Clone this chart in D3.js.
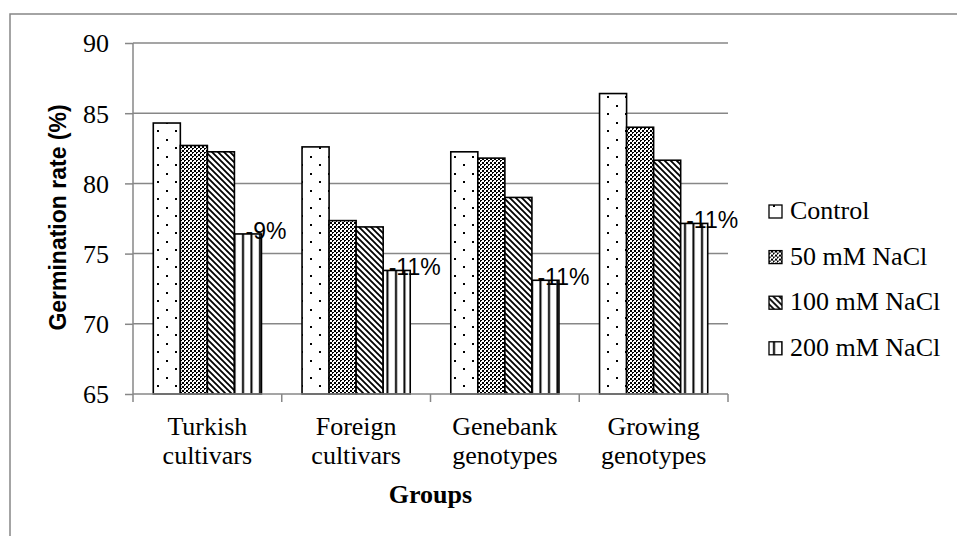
<!DOCTYPE html>
<html><head><meta charset="utf-8">
<script src="https://cdn.jsdelivr.net/npm/d3@7"></script>
<style>body{margin:0;background:#fff}svg{display:block}</style>
</head><body>
<svg id="c" width="957" height="536"></svg>
<script>
const categories = [["Turkish","cultivars"],["Foreign","cultivars"],["Genebank","genotypes"],["Growing","genotypes"]];
const seriesNames = ["Control","50 mM NaCl","100 mM NaCl","200 mM NaCl"];
const control = [84.3, 82.6, 82.25, 86.4];
const nacl50  = [82.7, 77.35, 81.8, 84.0];
const nacl100 = [82.25, 76.9, 79.0, 81.65];
const nacl200 = [76.4, 73.8, 73.1, 77.15];
const changeLabels = ["-9%","-11%","-11%","-11%"];
const yTicks = [65,70,75,80,85,90];

const svg = d3.select("#c");
const grid = "#878787";
const defs = svg.append("defs");
// patterns
const p0 = defs.append("pattern").attr("id","pDots").attr("patternUnits","userSpaceOnUse").attr("width",18).attr("height",17);
p0.append("rect").attr("width",18).attr("height",17).attr("fill","#fff");
p0.append("rect").attr("x",4).attr("y",3).attr("width",2).attr("height",2).attr("fill","#000");
p0.append("rect").attr("x",13).attr("y",11).attr("width",2).attr("height",2).attr("fill","#000");
const p1 = defs.append("pattern").attr("id","pCheck").attr("patternUnits","userSpaceOnUse").attr("width",4).attr("height",4);
p1.append("rect").attr("width",4).attr("height",4).attr("fill","#fff");
p1.append("rect").attr("x",0).attr("y",0).attr("width",2).attr("height",2).attr("fill","#000");
p1.append("rect").attr("x",2).attr("y",2).attr("width",2).attr("height",2).attr("fill","#000");
p1.append("rect").attr("x",1).attr("y",1).attr("width",1).attr("height",1).attr("fill","#fff");
const p2 = defs.append("pattern").attr("id","pDiag").attr("patternUnits","userSpaceOnUse").attr("width",6).attr("height",6);
p2.append("rect").attr("width",6).attr("height",6).attr("fill","#fff");
p2.append("path").attr("d","M-1,-1L7,7M-4,2L2,8M4,-2L8,2").attr("stroke","#000").attr("stroke-width",1.8);
const p3 = defs.append("pattern").attr("id","pVert").attr("patternUnits","userSpaceOnUse").attr("width",8.5).attr("height",8);
p3.append("rect").attr("width",8.5).attr("height",8).attr("fill","#fff");
p3.append("rect").attr("x",4).attr("y",0).attr("width",2).attr("height",8).attr("fill","#000");
const fills = ["url(#pDots)","url(#pCheck)","url(#pDiag)","url(#pVert)"];

// outer frame
svg.append("path").attr("d","M10,560V14H980").attr("fill","none").attr("stroke",grid).attr("stroke-width",1.5);

const pLeft=133, pRight=728, pTop=43, pBottom=394;
const x = d3.scaleBand().domain(categories.map(d=>d[0])).range([pLeft,pRight]);
const y = d3.scaleLinear().domain([65,90]).range([pBottom,pTop]);
const bw = x.bandwidth()/5.5;
const inner = d3.scaleBand().domain(seriesNames).range([(x.bandwidth()-4*bw)/2,(x.bandwidth()+4*bw)/2]);

// gridlines
svg.append("g").selectAll("line").data(yTicks.filter(t=>t>65)).join("line")
  .attr("x1",pLeft).attr("x2",pRight).attr("y1",d=>y(d)).attr("y2",d=>y(d))
  .attr("stroke",grid).attr("stroke-width",1.5);

// y axis
const ya = svg.append("g").attr("transform",`translate(${pLeft},0)`)
  .call(d3.axisLeft(y).tickValues(yTicks).tickSize(8).tickPadding(16).tickFormat(d3.format("d")));
ya.select(".domain").attr("stroke",grid).attr("stroke-width",1.5).attr("d",`M0,${pTop}V${pBottom}`);
ya.selectAll(".tick line").attr("stroke",grid).attr("stroke-width",1.5);
ya.selectAll(".tick text").attr("font-family","'Liberation Serif','Times New Roman',serif").attr("font-size",26).attr("fill","#000").attr("dy","0.34em");

// bars
const series = [control,nacl50,nacl100,nacl200];
series.forEach((vals,si)=>{
  svg.append("g").selectAll("rect").data(vals).join("rect")
    .attr("x",(d,i)=>x(categories[i][0])+inner(seriesNames[si]))
    .attr("y",d=>y(d)).attr("width",bw).attr("height",d=>pBottom-y(d))
    .attr("fill",fills[si]).attr("stroke","#000").attr("stroke-width",1.6);
});

// x axis
const xa = svg.append("g").attr("transform",`translate(0,${pBottom})`)
  .call(d3.axisBottom(x).tickSize(0).tickFormat(""));
xa.select(".domain").attr("stroke",grid).attr("stroke-width",1.5).attr("d",`M${pLeft},0H${pRight}`);
const bounds = categories.map(d=>x(d[0])).concat([pRight]);
xa.append("g").selectAll("line").data(bounds).join("line")
  .attr("x1",d=>d).attr("x2",d=>d).attr("y1",0).attr("y2",8).attr("stroke",grid).attr("stroke-width",1.5);
const cl = svg.append("g").selectAll("text").data(categories).join("text")
  .attr("x",d=>x(d[0])+x.bandwidth()/2).attr("y",435)
  .attr("text-anchor","middle").attr("font-family","'Liberation Serif','Times New Roman',serif").attr("font-size",26);
cl.append("tspan").attr("x",d=>x(d[0])+x.bandwidth()/2).text(d=>d[0]);
cl.append("tspan").attr("x",d=>x(d[0])+x.bandwidth()/2).attr("dy",29).text(d=>d[1]);

// data labels on 200 mM bars
svg.append("g").selectAll("text").data(nacl200).join("text")
  .attr("x",(d,i)=>x(categories[i][0])+inner(seriesNames[3])+bw/2+18)
  .attr("y",d=>y(d)+5)
  .attr("text-anchor","middle").attr("font-family","'Liberation Sans',Arial,sans-serif").attr("font-size",23)
  .text((d,i)=>changeLabels[i]);

// axis titles
svg.append("text").attr("x",(pLeft+pRight)/2).attr("y",503).attr("text-anchor","middle")
  .attr("font-family","'Liberation Serif','Times New Roman',serif").attr("font-weight","bold").attr("font-size",26).text("Groups");
svg.append("text").attr("transform",`translate(66,${(pTop+pBottom)/2-1}) rotate(-90)`).attr("text-anchor","middle")
  .attr("font-family","'Liberation Sans',Arial,sans-serif").attr("font-weight","bold").attr("font-size",23).text("Germination rate (%)");

// legend
const lg = svg.append("g").selectAll("g").data(seriesNames).join("g")
  .attr("transform",(d,i)=>`translate(769,${219+i*45.6})`);
lg.append("rect").attr("x",0).attr("y",-14).attr("width",13).attr("height",13)
  .attr("fill",(d,i)=>fills[i]).attr("stroke","#000").attr("stroke-width",1.3);
lg.append("text").attr("x",21).attr("y",0).attr("font-family","'Liberation Serif','Times New Roman',serif").attr("font-size",26).text(d=>d);
</script>
</body></html>
